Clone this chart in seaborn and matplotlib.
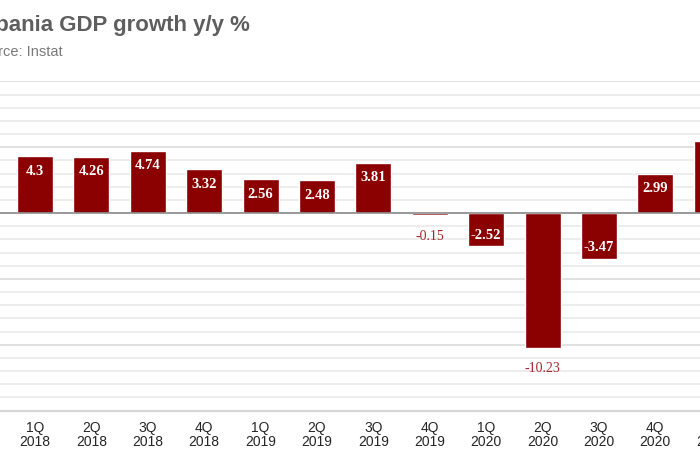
import matplotlib
matplotlib.use("Agg")
import matplotlib.pyplot as plt
from matplotlib.ticker import MultipleLocator
import seaborn as sns
import pandas as pd

quarters = ["1Q\n2018", "2Q\n2018", "3Q\n2018", "4Q\n2018",
            "1Q\n2019", "2Q\n2019", "3Q\n2019", "4Q\n2019",
            "1Q\n2020", "2Q\n2020", "3Q\n2020", "4Q\n2020",
            "1Q\n2021"]
growth = [4.3, 4.26, 4.74, 3.32, 2.56, 2.48, 3.81, -0.15,
          -2.52, -10.23, -3.47, 2.99, 5.5]
labels = ["4.3", "4.26", "4.74", "3.32", "2.56", "2.48", "3.81", "-0.15",
          "-2.52", "-10.23", "-3.47", "2.99", ""]
outside_labels = ["-0.15", "-10.23"]

df = pd.DataFrame({"quarter": quarters, "growth": growth})

sns.set_theme(style="white")
plt.rcParams["font.family"] = ["Liberation Sans", "DejaVu Sans"]

BAR = "#8b0000"
fig = plt.figure(figsize=(7, 4.6), dpi=100)
# axes runs past the right edge of the figure, as in the cropped reference
x0, x1 = -0.62, 12.6
ax = fig.add_axes([0, 0.1052, (x1 - x0) * 56.4 / 700, 0.7157])

sns.barplot(data=df, x="quarter", y="growth", order=quarters,
            color=BAR, saturation=1, width=0.64, ax=ax, zorder=3)

ax.set_ylim(-15, 10)
ax.set_xlim(x0, x1)
ax.yaxis.set_major_locator(MultipleLocator(5))
ax.yaxis.set_minor_locator(MultipleLocator(1))
ax.grid(axis="y", which="minor", color="#ececec", lw=1.3, zorder=0)
ax.grid(axis="y", which="major", color="#dedede", lw=1.3, zorder=0)
ax.axhline(0, color="#8c8c8c", lw=1.2, zorder=4)
for s in ["top", "left", "right"]:
    ax.spines[s].set_visible(False)
ax.spines["bottom"].set_color("#d6d6d6")
ax.spines["bottom"].set_linewidth(1.6)
ax.set_yticklabels([])
ax.tick_params(axis="y", length=0)
ax.tick_params(axis="x", length=0, pad=7, labelsize=10, labelcolor="#262626")
for t in ax.get_xticklabels():
    t.set_linespacing(0.95)
ax.set_xlabel("")
ax.set_ylabel("")

u = 1 / 13.16  # data units per pixel
for i, (v, lab) in enumerate(zip(growth, labels)):
    if not lab:
        continue
    if lab in outside_labels:
        ax.text(i, v - 20 * u, lab, ha="center", va="center",
                family="Liberation Serif", fontsize=10, color="#a3282c", zorder=5)
    elif v > 0:
        ax.text(i, v - 14 * u, lab, ha="center", va="center",
                family="Liberation Serif", fontsize=10.5, color="white",
                fontweight="bold", zorder=5)
    else:
        ax.text(i, v + 12 * u, lab, ha="center", va="center",
                family="Liberation Serif", fontsize=10.5, color="white",
                fontweight="bold", zorder=5)

fig.text(250 / 700, 1 - 25 / 460, "Albania GDP growth y/y %", ha="right",
         va="center", fontsize=16, fontweight="bold", color="#5e5e5e")
fig.text(63 / 700, 1 - 52 / 460, "Source: Instat", ha="right",
         va="center", fontsize=10.5, color="#7a7a7a")

fig.savefig("out.png", dpi=100)
